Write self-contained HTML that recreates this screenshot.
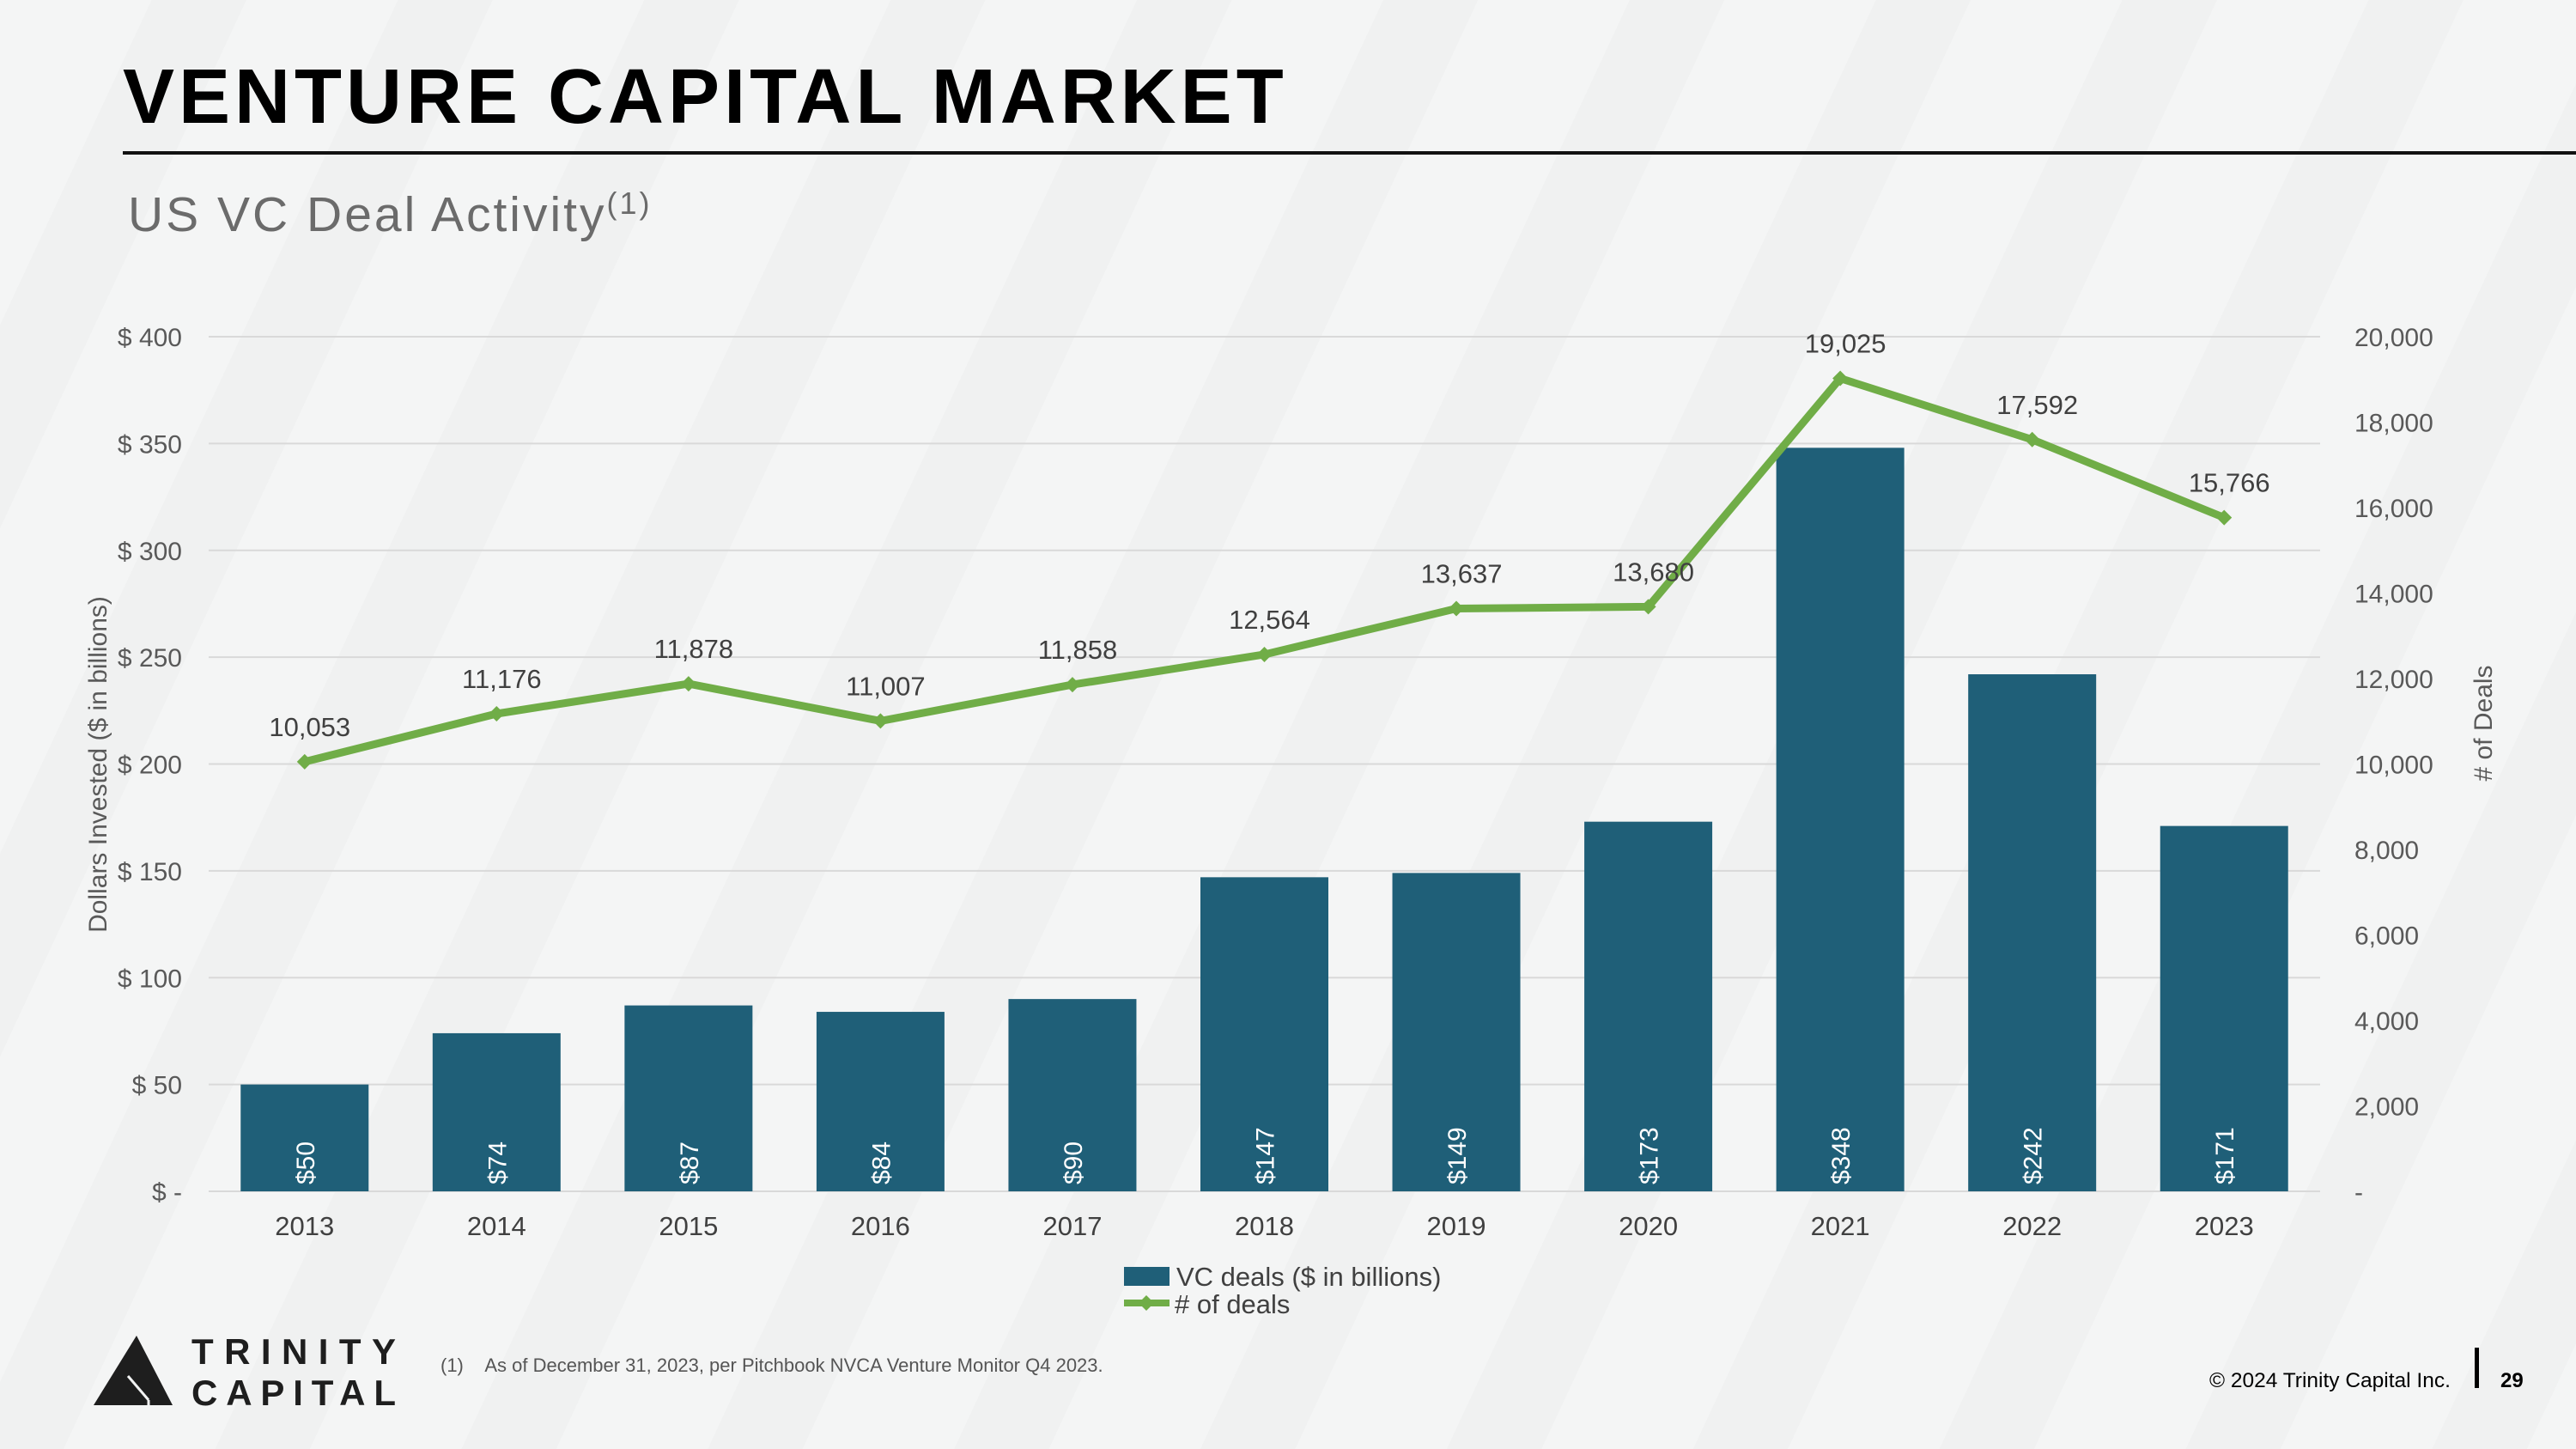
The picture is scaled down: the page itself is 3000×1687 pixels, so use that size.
<!DOCTYPE html>
<html><head><meta charset="utf-8"><style>
body{margin:0;width:3000px;height:1687px;overflow:hidden;background:#f3f4f4;font-family:"Liberation Sans",sans-serif;}
#bg{position:absolute;left:0;top:0;width:3000px;height:1687px;background:repeating-linear-gradient(115deg,#f4f5f5 0 160px,#f0f1f1 160px 260px);}
.abs{position:absolute;white-space:nowrap;}
</style></head><body>
<div id="bg"></div>
<div class="abs" style="left:143px;top:62px;font-size:90px;font-weight:bold;letter-spacing:5px;color:#000;">VENTURE CAPITAL MARKET</div>
<div class="abs" style="left:143px;top:176px;width:2857px;height:4px;background:#111;"></div>
<div class="abs" style="left:149px;top:216px;font-size:57px;color:#6b6b6b;letter-spacing:3px;">US VC Deal Activity<sup style="font-size:36px;">(1)</sup></div>
<svg id="chart" class="abs" style="left:0;top:0" width="3000" height="1687"></svg>
<div class="abs" style="left:513px;top:1577px;font-size:22px;color:#555;">(1)&nbsp;&nbsp;&nbsp;&nbsp;As of December 31, 2023, per Pitchbook NVCA Venture Monitor Q4 2023.</div>
<svg class="abs" style="left:105px;top:1550px" width="380" height="95">
<polygon points="54,5 4,86 96,86" fill="#1e1e1e"/>
<line x1="44" y1="52" x2="68" y2="80" stroke="#f2f3f3" stroke-width="3"/>
<line x1="68" y1="80" x2="68" y2="86" stroke="#f2f3f3" stroke-width="3"/>
<text x="118" y="38" font-family="Liberation Sans" font-size="42" textLength="238" lengthAdjust="spacing" fill="#1e1e1e" font-weight="bold">TRINITY</text>
<text x="118" y="86" font-family="Liberation Sans" font-size="42" textLength="238" lengthAdjust="spacing" fill="#1e1e1e" font-weight="bold">CAPITAL</text>
</svg>
<div class="abs" style="left:2573px;top:1594px;font-size:24.5px;color:#000;">© 2024 Trinity Capital Inc.</div>
<div class="abs" style="left:2882px;top:1569px;width:5px;height:47px;background:#000;"></div>
<div class="abs" style="left:2912px;top:1594px;font-size:24px;font-weight:bold;">29</div>
<script>
const years=["2013","2014","2015","2016","2017","2018","2019","2020","2021","2022","2023"];
const dollars=[50,74,87,84,90,147,149,173,348,242,171];
const deals=[10053,11176,11878,11007,11858,12564,13637,13680,19025,17592,15766];
const leftTicks=[0,50,100,150,200,250,300,350,400];
const rightTicks=[0,2000,4000,6000,8000,10000,12000,14000,16000,18000,20000];
const NS="http://www.w3.org/2000/svg";
const svg=document.getElementById('chart');
const X0=243,X1=2702,Y0=1387,Y1=392;
const yL=v=>Y0-(v/400)*(Y0-Y1);
const yR=v=>Y0-(v/20000)*(Y0-Y1);
const step=(X1-X0)/years.length;
const xC=i=>X0+step*(i+0.5);
function el(t,a,txt){const e=document.createElementNS(NS,t);for(const k in a)e.setAttribute(k,a[k]);if(txt!=null)e.textContent=txt;svg.appendChild(e);return e;}
const F="Liberation Sans, sans-serif";
leftTicks.forEach(v=>{
 const g=el('line',{x1:X0,x2:X1,y1:yL(v),y2:yL(v),stroke:'#d9d9d9','stroke-width':2});
 
 
 const t=el('text',{x:212,y:yL(v)+11,'text-anchor':'end','font-family':F,'font-size':30,fill:'#595959'},v===0?'$ -':'$ '+v);
 
 
});
rightTicks.forEach(v=>{
 const t=el('text',{x:2742,y:yR(v)+11,'font-family':F,'font-size':30,fill:'#595959'},v===0?'-':v.toLocaleString('en-US'));
 
 
});
const bw=149;
years.forEach((yr,i)=>{
 const b=el('rect',{x:xC(i)-bw/2,y:yL(dollars[i]),width:bw,height:Y0-yL(dollars[i]),fill:'#1f5f78'});
 
 
 const bl=el('text',{transform:`translate(${xC(i)+11},${Y0-8}) rotate(-90)`,'font-family':F,'font-size':30,fill:'#fff'},'$'+dollars[i]);
 
 
 const xl=el('text',{x:xC(i),y:1438,'text-anchor':'middle','font-family':F,'font-size':31,fill:'#404040'},yr);
 
 
});
const pts=deals.map((d,i)=>xC(i)+','+yR(d)).join(' ');
const line=el('polyline',{points:pts,fill:'none',stroke:'#70ad47','stroke-width':9,'stroke-linejoin':'round'});


deals.forEach((d,i)=>{
 const x=xC(i),y=yR(d);
 const m=el('polygon',{points:`${x},${y-9} ${x+9},${y} ${x},${y+9} ${x-9},${y}`,fill:'#70ad47'});
 
 
 const t=el('text',{x:x+6,y:y-30,'text-anchor':'middle','font-family':F,'font-size':31,fill:'#404040'},d.toLocaleString('en-US'));
 
 
});
const lt=el('text',{transform:'translate(124,890) rotate(-90)','text-anchor':'middle','font-family':F,'font-size':30,fill:'#595959'},'Dollars Invested ($ in billions)');


const rt=el('text',{transform:'translate(2902,842) rotate(-90)','text-anchor':'middle','font-family':F,'font-size':30,fill:'#595959'},'# of Deals');


const l1=el('rect',{x:1309,y:1475,width:53,height:22,fill:'#1f5f78'});


const l1t=el('text',{x:1370,y:1497,'font-family':F,'font-size':31,fill:'#404040'},'VC deals ($ in billions)');


const l2=el('line',{x1:1309,x2:1362,y1:1517,y2:1517,stroke:'#70ad47','stroke-width':8});


const l2m=el('polygon',{points:'1335,1508 1344,1517 1335,1526 1326,1517',fill:'#70ad47'});


const l2t=el('text',{x:1368,y:1529,'font-family':F,'font-size':31,fill:'#404040'},'# of deals');


</script>
</body></html>
